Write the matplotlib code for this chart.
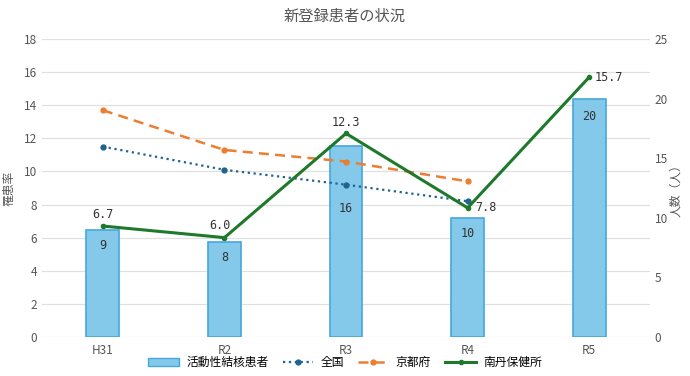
import matplotlib.pyplot as plt
import numpy as np
from matplotlib.patches import Patch

plt.rcParams['font.family'] = ['Noto Sans CJK JP', 'DejaVu Sans']

years = ["H31", "R2", "R3", "R4", "R5"]
patients = [9, 8, 16, 10, 20]            # 活動性結核患者 (人数, right axis)
zenkoku = [11.5, 10.1, 9.2, 8.2]          # 全国 (H31-R4)
kyoto = [13.7, 11.3, 10.6, 9.4]           # 京都府 (H31-R4)
nantan = [6.7, 6.0, 12.3, 7.8, 15.7]      # 南丹保健所

x = np.arange(len(years))

fig = plt.figure(figsize=(6.9, 3.76), dpi=100)
ax = fig.add_axes([0.061, 0.104, 0.881, 0.792])
ax2 = ax.twinx()

# bars on right axis
ax2.bar(x, patients, width=0.27, color="#85C9EA", edgecolor="#45A8DC", linewidth=1.2, zorder=2)
bar_off = [-11.5, -11.5, -45, -11.5, -13]
for xi, v, off in zip(x, patients, bar_off):
    ax2.annotate(str(v), (xi, v), xytext=(0, off), textcoords="offset points",
                 ha="center", va="center", fontsize=8.5, color="#333333",
                 family="DejaVu Sans Mono")
ax2.set_ylim(0, 25)
ax2.set_yticks(range(0, 26, 5))
ax2.set_ylabel("人数（人）", fontsize=8.5, color="#555555", labelpad=1)

# lines on left axis (drawn on top)
ax.set_zorder(ax2.get_zorder() + 1)
ax.patch.set_visible(False)
ax.plot(x[:4], zenkoku, color="#1F6390", linestyle=":", linewidth=1.6,
        marker="o", markersize=3.5, label="全国")
ax.plot(x[:4], kyoto, color="#ED7D31", linestyle=(0, (4, 2.5)), linewidth=1.8,
        marker="o", markersize=3.5, label="京都府")
ax.plot(x, nantan, color="#1E7A2A", linewidth=2.2,
        marker="o", markersize=3, label="南丹保健所")
lab_off = [(0, 8), (-3, 9), (0, 8), (13, 0), (14, 0)]
for xi, v, off in zip(x, nantan, lab_off):
    ax.annotate(f"{v:.1f}", (xi, v), xytext=off, textcoords="offset points",
                ha="center", va="center", fontsize=8.5, color="#333333",
                family="DejaVu Sans Mono")

ax.set_ylim(0, 18)
ax.set_yticks(range(0, 19, 2))
ax.set_xlim(-0.5, 4.5)
ax.set_xticks(x)
ax.set_xticklabels(years)
ax.set_ylabel("罹患率", fontsize=8.5, color="#555555", labelpad=6)

for a in (ax, ax2):
    for s in a.spines.values():
        s.set_visible(False)
    a.tick_params(length=0, labelsize=8.5, colors="#555555")
# grid lines behind bars
for t in range(0, 19, 2):
    ax2.axhline(t * 25 / 18, color="#E0E0E0", linewidth=0.9, zorder=0)
ax.tick_params(axis="x", pad=5)

fig.suptitle("新登録患者の状況", y=0.978, fontsize=11, color="#555555")

h2, l2 = ax.get_legend_handles_labels()
bar_h = Patch(facecolor="#85C9EA", edgecolor="#45A8DC", label="活動性結核患者")
fig.legend([bar_h] + h2, ["活動性結核患者"] + l2, loc="lower center", ncol=4,
           frameon=False, fontsize=8.5, bbox_to_anchor=(0.5, -0.01),
           handlelength=2.6, columnspacing=1.2, handletextpad=0.6)

fig.savefig("out.png", dpi=100)
